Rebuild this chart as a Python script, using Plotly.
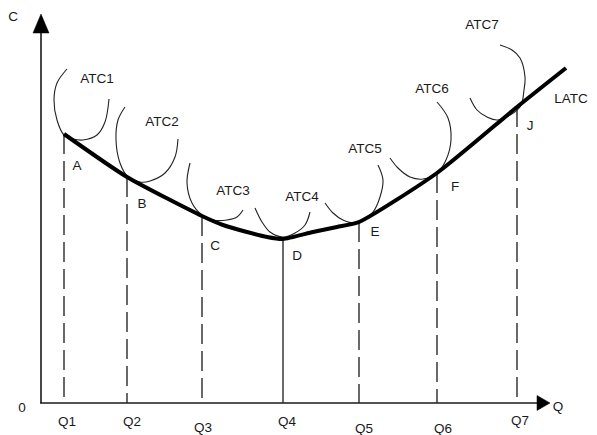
import plotly.graph_objects as go

# ---- data (arbitrary units) ----
q_labels = ["Q1", "Q2", "Q3", "Q4", "Q5", "Q6", "Q7"]
q_pos = [23, 86, 161, 242, 318, 396, 476]
point_labels = ["A", "B", "C", "D", "E", "F", "J"]
point_cost = [269, 226, 187, 164, 181, 230, 296]
q_solid = [False, False, False, True, False, False, False]

latc_x = [23, 86, 161, 182, 206, 226, 242, 272, 296, 318, 396, 476, 525]
latc_y = [269, 226, 187, 178, 171, 166, 164, 171, 176, 181, 230, 296, 335]

atc_names = ["ATC1", "ATC2", "ATC3", "ATC4", "ATC5", "ATC6", "ATC7"]
atc1_x = [26, 16, 13, 16, 23, 32, 42, 56, 64, 68]
atc1_y = [334, 320, 303, 283, 268, 264, 263, 268, 281, 304]
atc2_x = [84, 77, 75, 79, 87, 99, 109, 124, 134, 137]
atc2_y = [296, 283, 263, 240, 226, 221, 222, 230, 246, 264]
atc3_x = [149, 146, 151, 161, 172, 186, 196, 202]
atc3_y = [240, 220, 200, 188, 183, 183, 186, 193]
atc4_x = [214, 221, 229, 242, 254, 264, 269]
atc4_y = [195, 181, 171, 166, 170, 178, 191]
atc5_x = [284, 292, 302, 316, 332, 339, 342, 337]
atc5_y = [200, 190, 183, 180, 191, 206, 223, 238]
atc6_x = [349, 357, 369, 382, 396, 405, 410, 407, 396]
atc6_y = [245, 235, 226, 224, 230, 243, 263, 285, 301]
atc7_x = [429, 436, 446, 457, 479, 483, 484, 479, 471, 459]
atc7_y = [305, 293, 286, 283, 296, 313, 326, 345, 353, 358]
atc_curves = [(atc1_x, atc1_y), (atc2_x, atc2_y), (atc3_x, atc3_y), (atc4_x, atc4_y),
              (atc5_x, atc5_y), (atc6_x, atc6_y), (atc7_x, atc7_y)]

# label placement
atc_label_x = [56, 121, 192, 261, 324, 391, 441]
atc_label_y = [323, 280, 211, 205, 253, 313, 377]
latc_label_x, latc_label_y = 530, 303
pt_label_x = [36, 101, 174, 256, 334, 414, 489]
pt_label_y = [236, 198, 156, 146, 170, 215, 276]
q_label_x = [26, 91, 162, 246, 323, 402, 479]
q_label_y = [-20, -20, -26, -20, -27, -27, -19]

x_axis_end = 509
y_axis_end = 389
arrow_len_x, arrow_half_x = 13, 7.5
arrow_len_y, arrow_half_y = 19, 8

AX = "#1a1a1a"
FONT = dict(family="Liberation Sans, Arial, sans-serif", size=13.5, color="#1a1a1a")

fig = go.Figure()

# axes
fig.add_trace(go.Scatter(x=[0, 0], y=[0, y_axis_end - arrow_len_y], mode="lines",
                         line=dict(color=AX, width=1.6), hoverinfo="skip"))
fig.add_trace(go.Scatter(x=[-1, x_axis_end - arrow_len_x], y=[0, 0], mode="lines",
                         line=dict(color=AX, width=1.6), hoverinfo="skip"))
fig.add_trace(go.Scatter(x=[-arrow_half_y, arrow_half_y, 0, -arrow_half_y],
                         y=[y_axis_end - arrow_len_y, y_axis_end - arrow_len_y, y_axis_end, y_axis_end - arrow_len_y],
                         mode="lines", fill="toself", fillcolor="black",
                         line=dict(color="black", width=0.5), hoverinfo="skip"))
fig.add_trace(go.Scatter(x=[x_axis_end - arrow_len_x, x_axis_end - arrow_len_x, x_axis_end, x_axis_end - arrow_len_x],
                         y=[-arrow_half_x, arrow_half_x, 0, -arrow_half_x],
                         mode="lines", fill="toself", fillcolor="black",
                         line=dict(color="black", width=0.5), hoverinfo="skip"))

# vertical guide lines
for xq, yc, solid in zip(q_pos, point_cost, q_solid):
    fig.add_trace(go.Scatter(x=[xq, xq], y=[yc, 0], mode="lines",
                             line=dict(color="#2a2a2a", width=1.4,
                                       dash="solid" if solid else "20px,7px"),
                             hoverinfo="skip"))

# short-run ATC curves
for cx, cy in atc_curves:
    fig.add_trace(go.Scatter(x=cx, y=cy, mode="lines",
                             line=dict(color="#222222", width=1.1, shape="spline", smoothing=1.0),
                             hoverinfo="skip"))

# LATC
fig.add_trace(go.Scatter(x=latc_x, y=latc_y, mode="lines",
                         line=dict(color="black", width=4, shape="spline", smoothing=0.6),
                         hoverinfo="skip"))

# text labels
txt = dict(mode="text", textfont=FONT, hoverinfo="skip", cliponaxis=False)
fig.add_trace(go.Scatter(x=atc_label_x + [latc_label_x], y=atc_label_y + [latc_label_y],
                         text=atc_names + ["LATC"], **txt))
fig.add_trace(go.Scatter(x=pt_label_x, y=pt_label_y, text=point_labels, **txt))
fig.add_trace(go.Scatter(x=q_label_x, y=q_label_y, text=q_labels, **txt))
fig.add_trace(go.Scatter(x=[-28, -19, 517], y=[385, -6, -5], text=["C", "0", "Q"], **txt))

# page body has an 8px margin: size and ranges compensate for it
fig.update_layout(
    width=589, height=427,
    margin=dict(l=0, r=0, t=0, b=0),
    paper_bgcolor="white", plot_bgcolor="white",
    showlegend=False,
    xaxis=dict(range=[-33, 556], visible=False, fixedrange=True),
    yaxis=dict(range=[-32, 395], visible=False, fixedrange=True),
)

fig.write_html("out.html", config={"displayModeBar": False})
